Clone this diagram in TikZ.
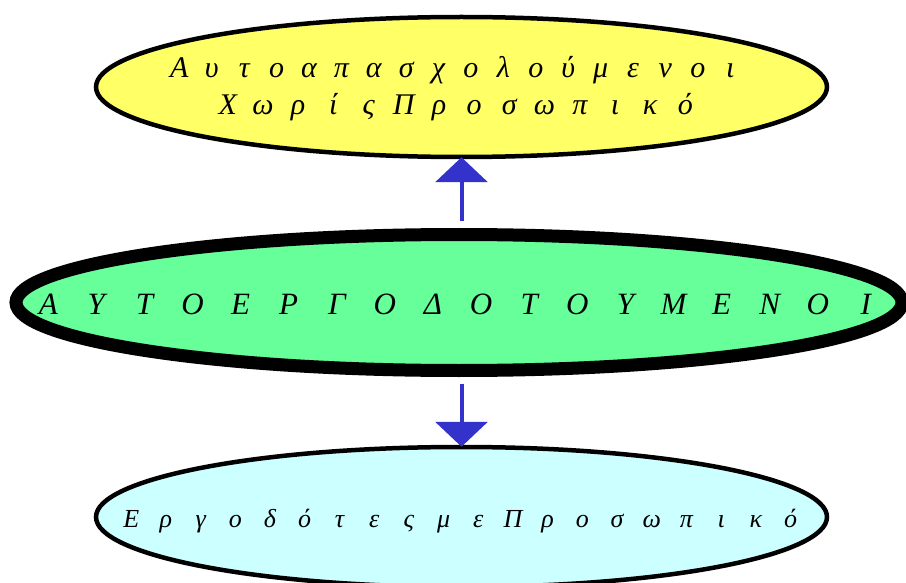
\documentclass[tikz,border=0pt]{standalone}
\usepackage{fontspec}
\setmainfont{Liberation Serif}
\usetikzlibrary{shapes.geometric,arrows.meta}
\tikzset{
  oval/.style={ellipse, draw=black, inner sep=0pt},
  lbl/.style={anchor=base west, inner sep=0pt, font=\itshape},
  conn/.style={draw={rgb,255:red,51;green,51;blue,204}, line width=4pt,
    -{Triangle[width=52pt,length=25pt]}},
}
\makeatletter
\newcommand{\cellrow}[2]{\@tfor\cellch:=#2\do{\makebox[#1]{\cellch}}}
\makeatother
\begin{document}
\begin{tikzpicture}[x=1pt,y=-1pt]
\useasboundingbox (0,0) rectangle (906,583);
\clip (0,0) rectangle (906,583);
\node[oval, line width=4.5pt, fill={rgb,255:red,255;green,255;blue,102},
  minimum width=731pt, minimum height=140pt] (top) at (461.5,87) {};
\node[oval, line width=13pt, fill={rgb,255:red,102;green,255;blue,153},
  minimum width=886pt, minimum height=136pt] (mid) at (459,302.5) {};
\node[oval, line width=4.5pt, fill={rgb,255:red,204;green,255;blue,255},
  minimum width=731pt, minimum height=140pt] (bot) at (461.5,517) {};
\node[lbl] (t1) at (163,78) {\fontsize{30}{36}\selectfont
  \cellrow{32.4pt}{Αυτοαπασχολούμενοι}};
\node[lbl] (t2) at (210,115) {\fontsize{30}{36}\selectfont
  \cellrow{35.2pt}{ΧωρίςΠροσωπικό}};
\node[lbl] (t3) at (24,314) {\fontsize{31}{36}\selectfont
  \cellrow{48.1pt}{ΑΥΤΟΕΡΓΟΔΟΤΟΥΜΕΝΟΙ}};
\node[lbl] (t4) at (113.7,527) {\fontsize{26}{30}\selectfont
  \cellrow{34.7pt}{ΕργοδότεςμεΠροσωπικό}};
\draw[conn, shorten <=6.5pt, shorten >=-2pt] (top.south |- mid.north) -- (top.south);
\draw[conn, shorten <=6.5pt, shorten >=-2pt] (bot.north |- mid.south) -- (bot.north);
\end{tikzpicture}
\end{document}
